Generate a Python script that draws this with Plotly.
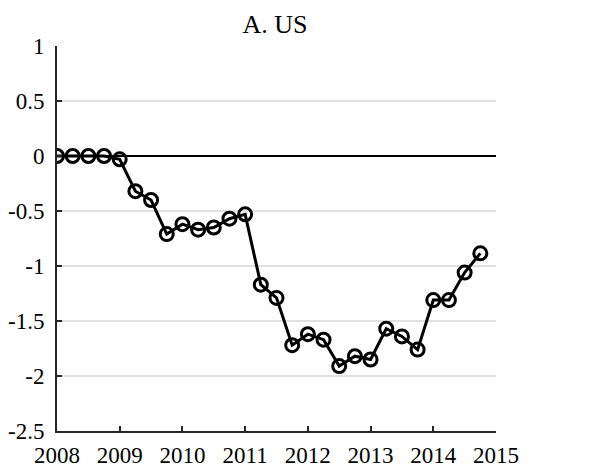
import plotly.graph_objects as go

# quarterly observations, 2008Q1 .. 2014Q4
dates = [2008 + 0.25 * i for i in range(28)]
values = [0.0, 0.0, 0.0, 0.0,
          -0.03, -0.32, -0.40, -0.71,
          -0.62, -0.67, -0.65, -0.57,
          -0.53, -1.17, -1.29, -1.72,
          -1.62, -1.67, -1.91, -1.82,
          -1.85, -1.57, -1.64, -1.76,
          -1.31, -1.31, -1.06, -0.885]

x_ticks = [2008, 2009, 2010, 2011, 2012, 2013, 2014, 2015]
y_ticks = [1, 0.5, 0, -0.5, -1, -1.5, -2, -2.5]
y_labels = ['1', '0.5', '0', '-0.5', '-1', '-1.5', '-2', '-2.5']

font = 'Liberation Serif'
axis_col = '#262626'

fig = go.Figure()
fig.add_trace(go.Scatter(
    x=dates, y=values, mode='lines+markers',
    line=dict(color='black', width=3),
    marker=dict(symbol='circle-open', size=13, color='black',
                line=dict(width=3, color='black')),
    showlegend=False,
))

# page body has an 8px margin, so the figure is a bit smaller than the window
fig.update_layout(
    width=592, height=464,
    margin=dict(l=49, r=104, t=38, b=41),
    paper_bgcolor='white', plot_bgcolor='white',
    font=dict(family=font, size=23, color='black'),
    title=dict(text='A. US', x=267 / 592, xanchor='center',
               yref='container', y=1 - 16 / 464, yanchor='middle',
               automargin=False,
               font=dict(family=font, size=26, color='black')),
)
fig.update_xaxes(
    range=[2008, 2015], tickvals=x_ticks, ticktext=[str(v) for v in x_ticks],
    showgrid=False, zeroline=False, automargin=False,
    showline=True, linecolor=axis_col, linewidth=2,
    ticks='inside', ticklen=5, tickwidth=2, tickcolor=axis_col,
    ticklabelstandoff=2,
    tickfont=dict(family=font, size=23, color='black'),
)
fig.update_yaxes(
    range=[-2.5, 1], tickvals=y_ticks, ticktext=y_labels,
    showgrid=True, gridcolor='#e0e0e0', gridwidth=2, automargin=False,
    zeroline=True, zerolinecolor='black', zerolinewidth=2,
    showline=True, linecolor=axis_col, linewidth=2,
    ticks='inside', ticklen=5, tickwidth=2, tickcolor=axis_col,
    ticklabelstandoff=6,
    tickfont=dict(family=font, size=23, color='black'),
)

fig.write_html("out.html")
